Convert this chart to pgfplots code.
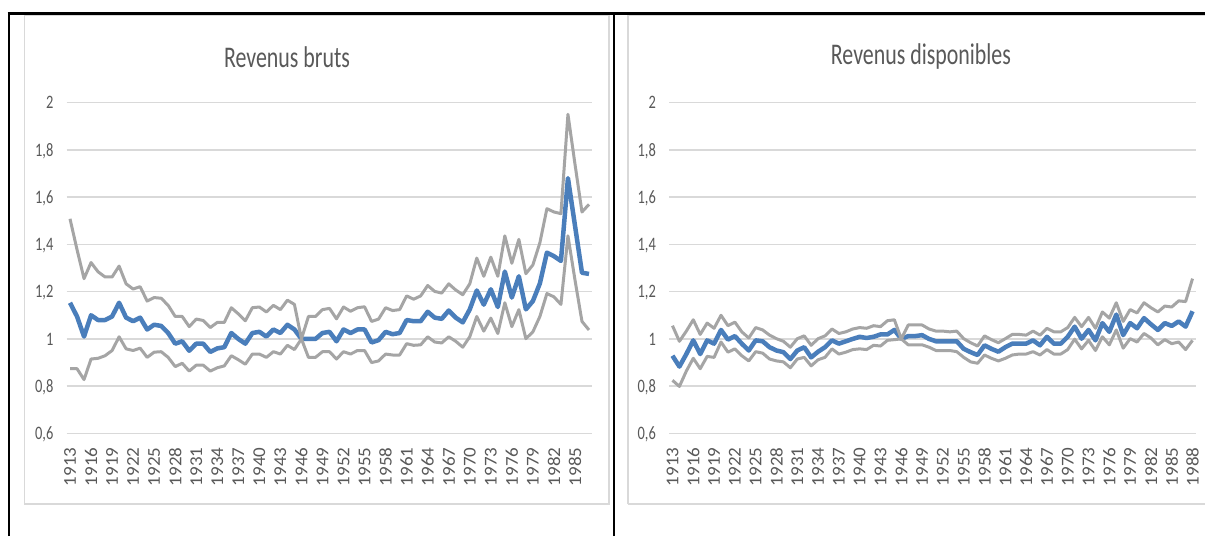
\documentclass[border=0pt]{standalone}
\usepackage{pgfplots}
\pgfplotsset{compat=1.18}
\usepackage{pgfplotstable}
\usepackage{fontspec}
\setmainfont{Carlito}

\definecolor{serblue}{RGB}{74,126,187}
\definecolor{sergrey}{RGB}{165,165,165}
\definecolor{gridgrey}{RGB}{217,217,217}
\definecolor{txtgrey}{RGB}{89,89,89}
\definecolor{boxgrey}{RGB}{217,217,217}

\pgfplotstableread{
year mid up lo
1913 1.153 1.508 0.874
1914 1.095 1.378 0.874
1915 1.010 1.255 0.828
1916 1.100 1.323 0.915
1917 1.080 1.284 0.918
1918 1.080 1.262 0.929
1919 1.095 1.262 0.951
1920 1.153 1.308 1.009
1921 1.090 1.233 0.958
1922 1.075 1.211 0.951
1923 1.090 1.221 0.961
1924 1.040 1.160 0.922
1925 1.060 1.175 0.944
1926 1.055 1.172 0.946
1927 1.025 1.142 0.922
1928 0.980 1.095 0.883
1929 0.990 1.095 0.897
1930 0.950 1.052 0.864
1931 0.980 1.084 0.889
1932 0.980 1.078 0.889
1933 0.945 1.048 0.864
1934 0.960 1.070 0.878
1935 0.965 1.070 0.886
1936 1.025 1.132 0.929
1937 1.000 1.106 0.912
1938 0.980 1.077 0.893
1939 1.025 1.132 0.936
1940 1.030 1.135 0.936
1941 1.010 1.114 0.922
1942 1.040 1.142 0.946
1943 1.025 1.124 0.936
1944 1.060 1.164 0.973
1945 1.040 1.146 0.955
1946 1.000 1.000 1.000
1947 1.000 1.095 0.922
1948 1.000 1.095 0.922
1949 1.025 1.124 0.946
1950 1.030 1.129 0.946
1951 0.990 1.085 0.915
1952 1.040 1.135 0.946
1953 1.025 1.117 0.936
1954 1.040 1.132 0.951
1955 1.040 1.136 0.951
1956 0.985 1.074 0.900
1957 0.995 1.084 0.907
1958 1.030 1.132 0.936
1959 1.020 1.120 0.932
1960 1.025 1.124 0.932
1961 1.080 1.182 0.980
1962 1.075 1.168 0.973
1963 1.075 1.182 0.975
1964 1.115 1.226 1.009
1965 1.090 1.201 0.987
1966 1.085 1.194 0.983
1967 1.120 1.233 1.009
1968 1.090 1.207 0.990
1969 1.070 1.187 0.965
1970 1.125 1.233 1.009
1971 1.205 1.342 1.095
1972 1.145 1.265 1.033
1973 1.210 1.346 1.088
1974 1.135 1.265 1.023
1975 1.285 1.436 1.153
1976 1.175 1.320 1.052
1977 1.265 1.421 1.124
1978 1.125 1.276 1.001
1979 1.160 1.313 1.030
1980 1.235 1.407 1.095
1981 1.365 1.551 1.192
1982 1.350 1.537 1.178
1983 1.330 1.530 1.146
1984 1.680 1.950 1.436
1985 1.480 1.740 1.250
1986 1.280 1.537 1.074
1987 1.275 1.569 1.038
}\bruts

\pgfplotstableread{
year mid up lo
1913 0.929 1.056 0.825
1914 0.883 0.990 0.799
1915 0.936 1.033 0.864
1916 0.994 1.081 0.918
1917 0.936 1.019 0.874
1918 0.994 1.067 0.926
1919 0.980 1.045 0.922
1920 1.038 1.100 0.987
1921 0.997 1.056 0.944
1922 1.012 1.071 0.958
1923 0.980 1.030 0.929
1924 0.951 1.004 0.907
1925 0.994 1.048 0.946
1926 0.990 1.038 0.940
1927 0.965 1.016 0.915
1928 0.951 1.001 0.907
1929 0.944 0.990 0.903
1930 0.915 0.965 0.878
1931 0.951 1.001 0.915
1932 0.965 1.013 0.922
1933 0.922 0.973 0.886
1934 0.946 1.001 0.912
1935 0.965 1.013 0.922
1936 0.994 1.042 0.958
1937 0.980 1.023 0.936
1938 0.990 1.030 0.944
1939 1.000 1.042 0.955
1940 1.009 1.048 0.958
1941 1.004 1.045 0.955
1942 1.009 1.056 0.973
1943 1.019 1.052 0.970
1944 1.019 1.077 0.994
1945 1.038 1.081 0.997
1946 1.000 1.000 1.000
1947 1.012 1.059 0.975
1948 1.012 1.059 0.975
1949 1.016 1.059 0.975
1950 1.000 1.042 0.965
1951 0.990 1.033 0.951
1952 0.990 1.033 0.951
1953 0.990 1.030 0.951
1954 0.990 1.033 0.946
1955 0.958 1.001 0.922
1956 0.944 0.984 0.903
1957 0.932 0.970 0.897
1958 0.973 1.013 0.932
1959 0.958 0.997 0.918
1960 0.946 0.984 0.907
1961 0.965 1.001 0.918
1962 0.980 1.019 0.932
1963 0.980 1.019 0.936
1964 0.980 1.016 0.936
1965 0.994 1.033 0.946
1966 0.973 1.016 0.932
1967 1.009 1.045 0.955
1968 0.980 1.030 0.936
1969 0.980 1.030 0.936
1970 1.009 1.048 0.955
1971 1.052 1.091 0.999
1972 1.001 1.052 0.958
1973 1.038 1.091 0.994
1974 0.994 1.045 0.951
1975 1.067 1.114 1.009
1976 1.030 1.088 0.975
1977 1.103 1.153 1.038
1978 1.016 1.074 0.961
1979 1.067 1.124 1.001
1980 1.045 1.110 0.987
1981 1.088 1.153 1.023
1982 1.062 1.132 1.004
1983 1.038 1.114 0.975
1984 1.067 1.139 0.997
1985 1.055 1.135 0.980
1986 1.074 1.161 0.987
1987 1.052 1.158 0.955
1988 1.117 1.255 0.994
}\dispo

\pgfplotsset{myaxis/.style={
  scale only axis, height=331pt, anchor=south west,
  ymin=0.6, ymax=2,
  ytick={0.6,0.8,1,1.2,1.4,1.6,1.8,2},
  yticklabels={{0,6},{0,8},{1},{1,2},{1,4},{1,6},{1,8},{2}},
  axis line style={draw=none},
  major tick length=0pt,
  ymajorgrids, major grid style={gridgrey, line width=1.6pt},
  tick label style={text=txtgrey, font=\fontsize{19}{19}\selectfont},
  yticklabel style={anchor=east, inner sep=0pt, text depth=0pt, xscale=0.76},
  yticklabel shift=13pt,
  xticklabel style={rotate=90, anchor=east, inner sep=0pt, yscale=0.95},
  xticklabel shift=14pt,
  /pgf/number format/1000 sep={},
  /pgf/number format/assume math mode=true,
  clip=false,
}}

\begin{document}
\begin{tikzpicture}[x=1pt,y=1pt]
\useasboundingbox (0,0) rectangle (1205,536);
\fill[white] (0,0) rectangle (1205,536);
% chart areas
\draw[boxgrey, line width=1.5pt] (24.5,32) rectangle (609,520.6);
\draw[boxgrey, line width=1.5pt] (628,32) -- (628,520.6) -- (1210,520.6);
\draw[boxgrey, line width=1.5pt] (628,32) -- (1210,32);
% table borders
\draw[black, line width=2.6pt] (9,0) -- (9,522.3);
\draw[black, line width=2.6pt] (614,0) -- (614,522.3);
\draw[black, line width=2.6pt] (7.7,522.3) -- (1210,522.3);

\node[anchor=base, xscale=0.73, font=\fontsize{30}{36}\selectfont, text=txtgrey] at (287,468) {Revenus bruts};
\node[anchor=base, xscale=0.73, font=\fontsize{30}{36}\selectfont, text=txtgrey] at (921,471) {Revenus disponibles};

\begin{axis}[myaxis, at={(66.5pt,102.5pt)}, width=526pt,
  xmin=1912.5, xmax=1987.5, xtick={1913,1916,...,1985}]
\addplot[serblue, line width=4.5pt, line join=round] table[x=year,y=mid]{\bruts};
\addplot[sergrey, line width=3pt, line join=round] table[x=year,y=up]{\bruts};
\addplot[sergrey, line width=3pt, line join=round] table[x=year,y=lo]{\bruts};
\end{axis}

\begin{axis}[myaxis, at={(669pt,102.5pt)}, width=527pt,
  xmin=1912.5, xmax=1988.5, xtick={1913,1916,...,1988}]
\addplot[serblue, line width=4.5pt, line join=round] table[x=year,y=mid]{\dispo};
\addplot[sergrey, line width=3pt, line join=round] table[x=year,y=up]{\dispo};
\addplot[sergrey, line width=3pt, line join=round] table[x=year,y=lo]{\dispo};
\end{axis}
\end{tikzpicture}
\end{document}
